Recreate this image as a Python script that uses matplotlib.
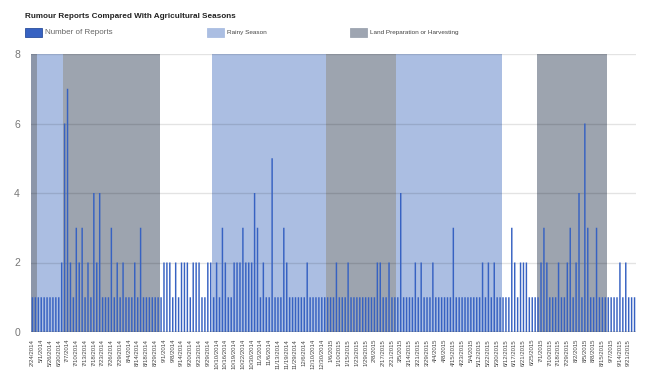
import numpy as np
import matplotlib.pyplot as plt
from matplotlib.patches import Rectangle

plt.rcParams['font.family'] = ['Liberation Sans', 'DejaVu Sans']

# reports per day (one bar per category on the axis)
reports = [
    1, 1, 1, 1, 1, 1, 1, 1, 1, 1,   # 0-9
    2, 6, 7, 2, 1, 3, 2, 3, 1, 2,   # 10-19
    1, 4, 2, 4, 1, 1, 1, 3, 1, 2,   # 20-29
    1, 2, 1, 1, 1, 2, 1, 3, 1, 1,   # 30-39
    1, 1, 1, 1, 1, 2, 2, 2, 1, 2,   # 40-49
    1, 2, 2, 2, 1, 2, 2, 2, 1, 1,   # 50-59
    2, 2, 1, 2, 1, 3, 2, 1, 1, 2,   # 60-69
    2, 2, 3, 2, 2, 2, 4, 3, 1, 2,   # 70-79
    1, 1, 5, 1, 1, 1, 3, 2, 1, 1,   # 80-89
    1, 1, 1, 1, 2, 1, 1, 1, 1, 1,   # 90-99
    1, 1, 1, 1, 2, 1, 1, 1, 2, 1,   # 100-109
    1, 1, 1, 1, 1, 1, 1, 1, 2, 2,   # 110-119
    1, 1, 2, 1, 1, 1, 4, 1, 1, 1,   # 120-129
    1, 2, 1, 2, 1, 1, 1, 2, 1, 1,   # 130-139
    1, 1, 1, 1, 3, 1, 1, 1, 1, 1,   # 140-149
    1, 1, 1, 1, 2, 1, 2, 1, 2, 1,   # 150-159
    1, 1, 1, 1, 3, 2, 1, 2, 2, 2,   # 160-169
    1, 1, 1, 1, 2, 3, 2, 1, 1, 1,   # 170-179
    2, 1, 1, 2, 3, 1, 2, 4, 1, 6,   # 180-189
    3, 1, 1, 3, 1, 1, 1, 1, 1, 1,   # 190-199
    1, 2, 1, 2, 1, 1, 1,            # 200-206
]

# every third category is labelled
date_labels = [
    '2/24/2014', '5/1/2014', '5/26/2014', '6/30/2014', '7/7/2014', '7/10/2014',
    '7/13/2014', '7/18/2014', '7/23/2014', '7/26/2014', '7/29/2014', '8/4/2014',
    '8/14/2014', '8/18/2014', '8/29/2014', '9/1/2014', '9/8/2014', '9/14/2014',
    '9/20/2014', '9/23/2014', '9/29/2014', '10/10/2014', '10/16/2014', '10/19/2014',
    '10/22/2014', '10/30/2014', '11/3/2014', '11/6/2014', '11/13/2014', '11/19/2014',
    '11/29/2014', '12/6/2014', '12/10/2014', '12/30/2014', '1/6/2015', '1/10/2015',
    '1/15/2015', '1/23/2015', '1/29/2015', '2/8/2015', '2/17/2015', '2/21/2015',
    '3/5/2015', '3/14/2015', '3/21/2015', '3/29/2015', '4/4/2015', '4/8/2015',
    '4/15/2015', '4/23/2015', '5/4/2015', '5/12/2015', '5/22/2015', '5/30/2015',
    '6/12/2015', '6/17/2015', '6/21/2015', '6/25/2015', '7/1/2015', '7/10/2015',
    '7/18/2015', '7/29/2015', '8/2/2015', '8/5/2015', '8/8/2015', '8/15/2015',
    '9/7/2015', '9/14/2015', '9/21/2015',
]
label_step = 3

# seasons, as category index ranges [start, end)
rainy_start = [0, 62, 125]
rainy_end = [11, 101, 161]
harvest_start = [0, 11, 101, 173]
harvest_end = [2, 44, 125, 197]
season_height = 8

blue = '#3762c2'
rainy_col = '#abbee2'
harvest_col = '#858d9b'

fig = plt.figure(figsize=(6.5, 3.75), dpi=100)
ax = fig.add_axes([31 / 650, 1 - 332 / 375, 605 / 650, 278 / 375])

x = np.arange(len(reports))

# season backgrounds
rs = np.array(rainy_start)
re = np.array(rainy_end)
ax.bar(rs - 0.5, season_height, width=re - rs, align='edge',
       color=rainy_col, linewidth=0, zorder=1)
hs = np.array(harvest_start)
he = np.array(harvest_end)
ax.bar(hs - 0.5, season_height, width=he - hs, align='edge',
       color=harvest_col, alpha=0.8, linewidth=0, zorder=2)

# gridlines
for yv in [2, 4, 6, 8]:
    ax.axhline(yv, color='black', alpha=0.11, linewidth=1, zorder=3)

bars = ax.bar(x, reports, width=0.5, color=blue, linewidth=0, zorder=4)
for b in bars:
    b.set_snap(False)
ax.axhline(0, color='#555555', linewidth=1, zorder=5)

ax.set_xlim(-0.5, len(reports) - 0.5)
ax.set_ylim(0, 8)
ax.set_yticks([0, 2, 4, 6, 8])
ax.set_xticks(np.arange(len(date_labels)) * label_step)
ax.set_xticklabels(date_labels, rotation=90, fontsize=4.3, color='#444444')
ax.tick_params(axis='both', length=0)
ax.tick_params(axis='x', pad=5)
ax.tick_params(axis='y', pad=8, labelsize=7.5, labelcolor='#777777')
for s in ax.spines.values():
    s.set_visible(False)

# title and legend
fig.text(25 / 650, 1 - 16 / 375, 'Rumour Reports Compared With Agricultural Seasons',
         fontsize=5.9, fontweight='bold', color='#222222', va='center')

legend_items = [
    (25, blue, 'Number of Reports', 5.8, '#666666'),
    (207, rainy_col, 'Rainy Season', 4.6, '#444444'),
    (350, '#9ea5b1', 'Land Preparation or Harvesting', 4.6, '#444444'),
]
for lx, col, txt, fs, tc in legend_items:
    fig.patches.append(Rectangle((lx / 650, 1 - 37 / 375), 17 / 650, 9 / 375,
                                 transform=fig.transFigure, facecolor=col,
                                 edgecolor=col if col != blue else '#2a4f9c',
                                 linewidth=0.6))
    fig.text((lx + 20) / 650, 1 - 32.5 / 375, txt, fontsize=fs, color=tc, va='center')

fig.savefig('out.png', dpi=100)
